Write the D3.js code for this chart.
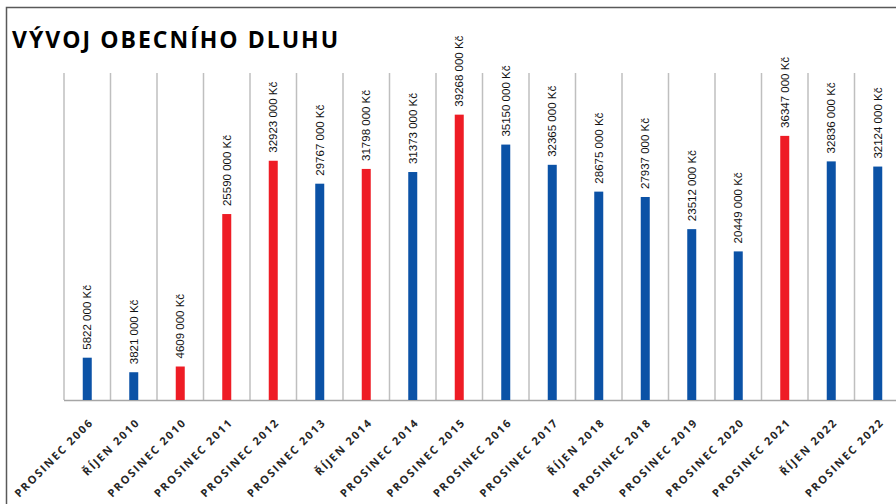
<!DOCTYPE html>
<html><head><meta charset="utf-8">
<script src="https://cdn.jsdelivr.net/npm/d3@7"></script>
<style>body{margin:0;background:#fff;}svg{display:block;}</style>
</head><body>
<script>
const categories = ["PROSINEC 2006","ŘÍJEN 2010","PROSINEC 2010","PROSINEC 2011","PROSINEC 2012","PROSINEC 2013","ŘÍJEN 2014","PROSINEC 2014","PROSINEC 2015","PROSINEC 2016","PROSINEC 2017","ŘÍJEN 2018","PROSINEC 2018","PROSINEC 2019","PROSINEC 2020","PROSINEC 2021","ŘÍJEN 2022","PROSINEC 2022"];
const values = [5822000,3821000,4609000,25590000,32923000,29767000,31798000,31373000,39268000,35150000,32365000,28675000,27937000,23512000,20449000,36347000,32836000,32124000];
const highlight = [0,0,1,1,1,0,1,0,1,0,0,0,0,0,0,1,0,0];
const title = "VÝVOJ OBECNÍHO DLUHU";
const yMax = 45000000;

const W = 896, H = 504;
const svg = d3.select("body").append("svg").attr("width", W).attr("height", H);

// frame
svg.append("rect").attr("x",6.5).attr("y",7.5).attr("width",1000).attr("height",1000)
  .attr("fill","none").attr("stroke","#595959").attr("stroke-width",1.5);

svg.append("text").attr("x",12).attr("y",48).text(title)
  .attr("font-family","'Open Sans', sans-serif").attr("font-weight",700)
  .attr("font-size",23).attr("letter-spacing","2px").attr("fill","#000");

const left = 64, step = 46.5;
const x = d3.scaleBand().domain(categories).range([left, left + step*categories.length]).paddingInner(0).paddingOuter(0);
const y = d3.scaleLinear().domain([0,yMax]).range([400,73]);

// vertical gridlines at category boundaries
const bounds = categories.map(c => x(c)).concat([x(categories[categories.length-1]) + x.bandwidth()]);
svg.append("g").selectAll("line").data(bounds).join("line")
  .attr("x1",d=>d).attr("x2",d=>d).attr("y1",y(yMax)).attr("y2",y(0))
  .attr("stroke","#bfbfbf").attr("stroke-width",1.5);

// baseline
svg.append("line").attr("x1",left).attr("x2",W+20).attr("y1",y(0)+0.5).attr("y2",y(0)+0.5)
  .attr("stroke","#a6a6a6").attr("stroke-width",1.5);

const barW = 9;
svg.append("g").selectAll("rect").data(values).join("rect")
  .attr("x",(d,i)=>x(categories[i]) + x.bandwidth()/2 - barW/2)
  .attr("y",d=>y(d)).attr("width",barW).attr("height",d=>y(0)-y(d))
  .attr("fill",(d,i)=>highlight[i] ? "#ee1c25" : "#0b52a6");

// value labels
svg.append("g").selectAll("text").data(values).join("text")
  .attr("transform",(d,i)=>`translate(${x(categories[i]) + x.bandwidth()/2 + 4},${y(d)-8}) rotate(-90)`)
  .attr("font-family","'Liberation Sans', Arial, sans-serif").attr("font-size",11.5)
  .attr("fill","#111")
  .text(d => Math.floor(d/1000) + " 000 Kč");

// category labels
svg.append("g").selectAll("text").data(categories).join("text")
  .attr("transform",(d)=>`translate(${x(d) + x.bandwidth()/2 + 7},${y(0)+23}) rotate(-45)`)
  .attr("text-anchor","end")
  .attr("font-family","'Open Sans', sans-serif").attr("font-weight",700)
  .attr("font-size",11).attr("letter-spacing","1.8px").attr("fill","#262626")
  .text(d=>d);
</script>
</body></html>
